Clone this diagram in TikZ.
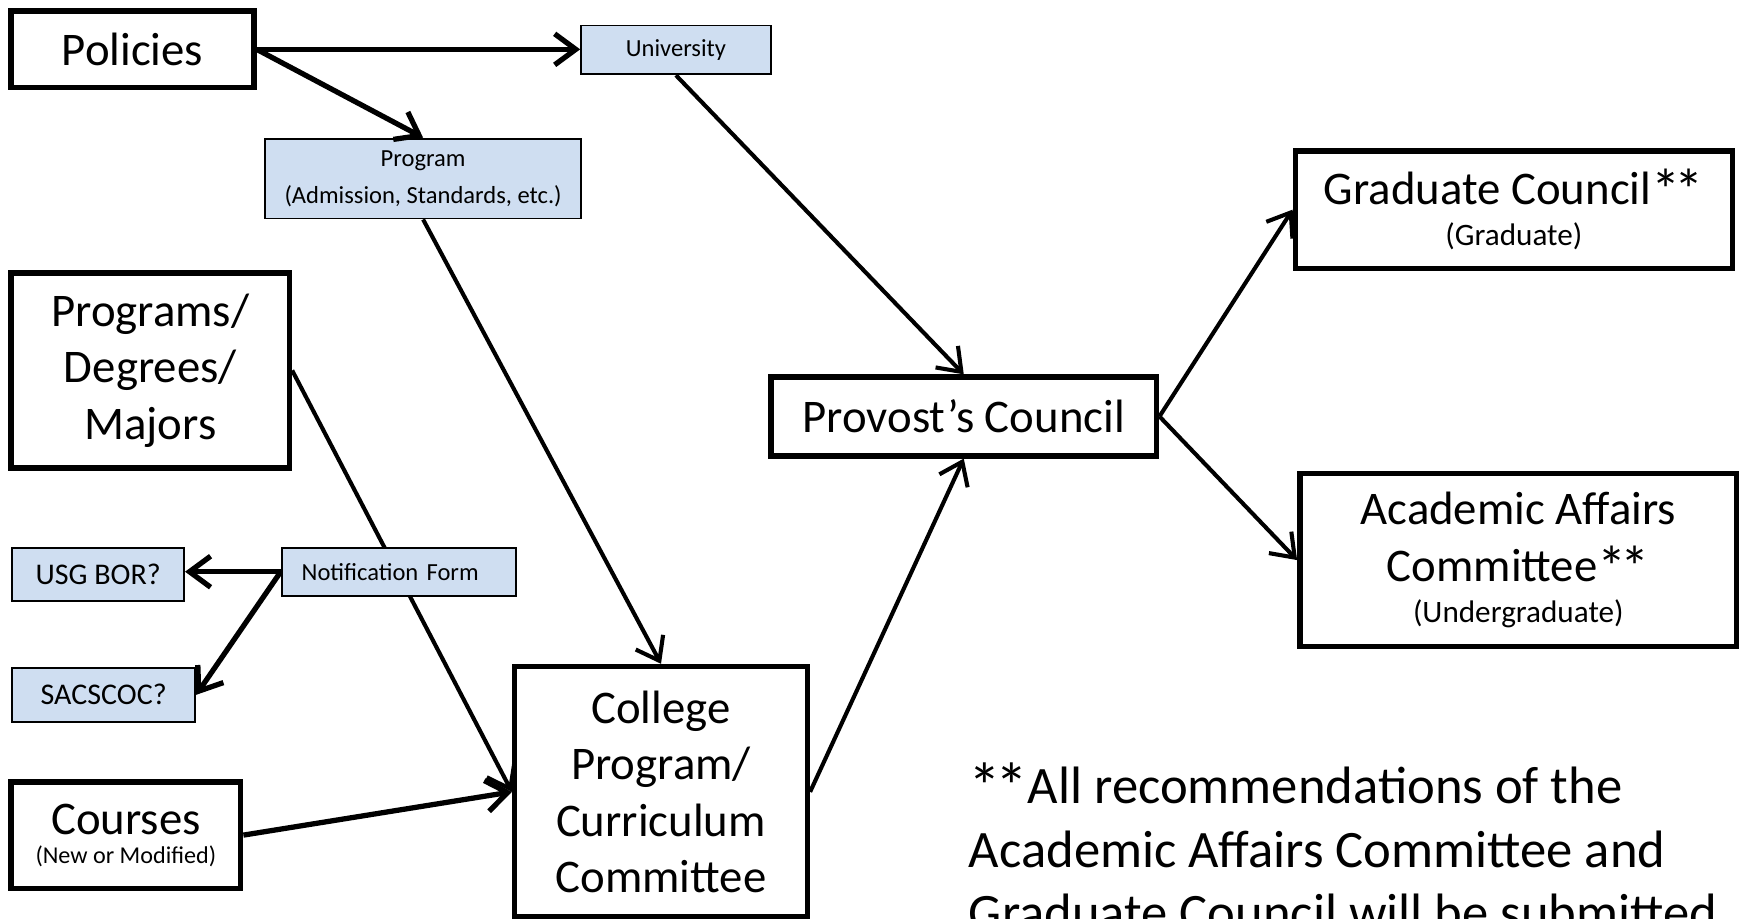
\documentclass[tikz,border=0pt]{standalone}
\usepackage{fontspec}
\setmainfont{Carlito}
\usetikzlibrary{positioning}
\usetikzlibrary{arrows.meta}
\definecolor{boxblue}{RGB}{207,222,241}
\tikzstyle{bigbox} = [draw=black, line width=1.4pt, fill=white, inner sep=0pt, align=center, font=\fontsize{12}{14.5}\selectfont]
\tikzstyle{bluebox} = [draw=black, line width=0.5pt, fill=boxblue, inner sep=0pt, align=center, font=\fontsize{6.3}{8.2}\selectfont]
\tikzstyle{arrow} = [line width=1.05pt, -{Straight Barb[length=1.9mm,width=2.8mm]}]
\tikzstyle{thickarrow} = [arrow, line width=1.35pt]
\newcommand{\subline}[1]{{\fontsize{8}{10}\selectfont #1}}
\newcommand{\stars}{\raisebox{-0.12em}{\scalebox{1.25}{*\kern-0.1em*}}}

\begin{document}
\begin{tikzpicture}[x=0.1mm, y=-0.1mm]
\useasboundingbox (0,0) rectangle (1568,828.6);
\node[bigbox, minimum width=21.9mm, minimum height=6.9mm] (pol) at (119.5,44.5) {Policies};
\node[bluebox, minimum width=17.1mm, minimum height=4.4mm] (uni) at (609.5,45) {University};
\node[bluebox, minimum width=28.5mm, minimum height=7.2mm] (prog) at (381.5,161) {Program\\[1.2pt](Admission, Standards, etc.)};
\node[bigbox, minimum width=25.1mm, minimum height=17.6mm] (pdm) at (135.5,334) {Programs/\\Degrees/\\Majors};
\node[bigbox, minimum width=20.7mm, minimum height=9.6mm] (crs) at (113.5,753) {Courses\\[-7pt]{\fontsize{6.2}{7.5}\selectfont (New or Modified)}};
\node[bigbox, minimum width=26.4mm, minimum height=22.6mm] (ccc) at (596,714) {College\\Program/\\Curriculum\\Committee};
\node[bigbox, minimum width=34.8mm, minimum height=7.1mm] (prov) at (869,375.5) {Provost's Council};
\node[bigbox, minimum width=39.4mm, minimum height=10.6mm] (grad) at (1365,189) {Graduate Council\stars\\[-4pt]\subline{(Graduate)}};
\node[bigbox, minimum width=39.4mm, minimum height=15.6mm] (aac) at (1369,505) {Academic Affairs\\Committee\stars\\[-4pt]\subline{(Undergraduate)}};
\node[bluebox, minimum width=15.5mm, minimum height=4.8mm, font=\fontsize{7.7}{9}\selectfont] (usg) at (88.5,518) {USG BOR?};
\node[bluebox, minimum width=16.5mm, minimum height=4.9mm, font=\fontsize{7.7}{9}\selectfont] (sacs) at (93.5,626.5) {SACSCOC?};
% this one runs behind the notification box
\draw[arrow] (pdm.east) -- (ccc.west);
\node[bluebox, minimum height=4.3mm, align=left, text width=17.5mm, inner xsep=1.8mm] (notif) at (359.5,515.5) {Notification Form};
\draw[thickarrow] (pol.east) -- (pol.east -| uni.west);
\draw[thickarrow] (pol.east) -- (prog.north);
\draw[arrow] (uni.south) -- (prov.north);
\draw[arrow] (prog.south) -- (ccc.north);
\draw[thickarrow] (notif.west) -- (notif.west -| usg.east);
\draw[thickarrow] (notif.west) -- (sacs.east);
\draw[thickarrow] (crs.east) -- (ccc.west);
\draw[arrow] (ccc.east) -- (prov.south);
\draw[arrow] (prov.east) -- (grad.west);
\draw[arrow] (prov.east) -- (aac.west);
\node[anchor=north west, align=left, inner sep=0pt, font=\fontsize{13.5}{16.4}\selectfont] (note) at (873,687) {\stars All recommendations of the\\Academic Affairs Committee and\\Graduate Council will be submitted};
\end{tikzpicture}
\end{document}
